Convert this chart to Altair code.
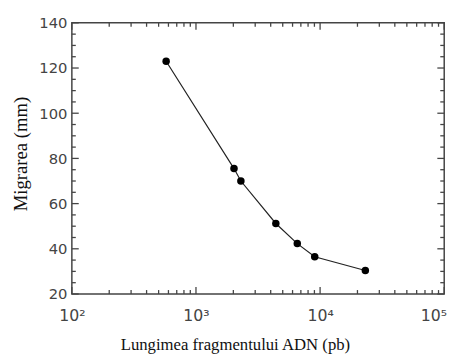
import altair as alt
import pandas as pd

# data
length_bp = [575, 2025, 2300, 4400, 6550, 9050, 23150]
migration_mm = [123, 75.5, 70, 51.2, 42.3, 36.5, 30.4]

x_major = [100, 1000, 10000, 100000]
x_minor = [m * 10 ** e for e in (2, 3, 4) for m in range(2, 10)]
y_major = [20, 40, 60, 80, 100, 120, 140]
y_minor = [v for v in range(25, 140, 5) if v % 20 != 0]

W, H = 379, 276
MAJ, MIN = 7, 4
TICK_COLOR = "#444"

df = pd.DataFrame({"x": length_bp, "y": migration_mm})

xscale = alt.Scale(type="log", domain=[100, 100000], nice=False)
yscale = alt.Scale(domain=[20, 140], nice=False, zero=False)

label_expr = ("datum.value == 100 ? '10\u00b2' : datum.value == 1000 ? '10\u00b3' : "
              "datum.value == 10000 ? '10\u2074' : '10\u2075'")

xaxis = alt.Axis(values=x_major, labelExpr=label_expr, tickSize=0, domain=False, grid=False,
                 labelFont="DejaVu Sans", labelFontSize=16, labelColor="#444",
                 labelPadding=14,
                 labelOffset={"condition": {"test": "datum.value == 100000", "value": -11},
                              "value": 0},
                 title="Lungimea fragmentului ADN (pb)",
                 titleFont="Liberation Serif", titleFontSize=17, titleFontWeight="normal",
                 titleColor="#111", titleX=166, titleY=56, titleBaseline="alphabetic",
                 titleAlign="center", labelFlush=False)
yaxis = alt.Axis(values=y_major, tickSize=0, domain=False, grid=False,
                 labelFont="DejaVu Sans", labelFontSize=15, labelColor="#444",
                 labelPadding=5, title="Migrarea (mm)",
                 titleFont="Liberation Serif", titleFontSize=19, titleFontWeight="normal",
                 titleColor="#111", titleX=-52, titleY=133, titleBaseline="middle",
                 titleAlign="center", titleAngle=-90, labelFlush=False)

line = alt.Chart(df).mark_line(color="#222", strokeWidth=1.2).encode(
    x=alt.X("x:Q", scale=xscale, axis=xaxis),
    y=alt.Y("y:Q", scale=yscale, axis=yaxis),
)
pts = alt.Chart(df).mark_circle(color="black", size=58, opacity=1).encode(
    x=alt.X("x:Q", scale=xscale),
    y=alt.Y("y:Q", scale=yscale),
)


def xticks(vals, ln):
    d = pd.DataFrame({"x": vals})
    bottom = alt.Chart(d).mark_rule(color=TICK_COLOR, strokeWidth=1.3).encode(
        x=alt.X("x:Q", scale=xscale), y=alt.value(H), y2=alt.value(H - ln))
    top = alt.Chart(d).mark_rule(color=TICK_COLOR, strokeWidth=1.3).encode(
        x=alt.X("x:Q", scale=xscale), y=alt.value(0), y2=alt.value(ln))
    return [bottom, top]


def yticks(vals, ln):
    d = pd.DataFrame({"y": vals})
    left = alt.Chart(d).mark_rule(color=TICK_COLOR, strokeWidth=1.3).encode(
        y=alt.Y("y:Q", scale=yscale), x=alt.value(0), x2=alt.value(ln))
    right = alt.Chart(d).mark_rule(color=TICK_COLOR, strokeWidth=1.3).encode(
        y=alt.Y("y:Q", scale=yscale), x=alt.value(W), x2=alt.value(W - ln))
    return [left, right]


layers = (xticks(x_major, MAJ) + xticks(x_minor, MIN) +
          yticks(y_major, MAJ) + yticks(y_minor, MIN) + [line, pts])

chart = alt.layer(*layers).properties(
    width=W, height=H,
    autosize=alt.AutoSizeParams(type="none"),
    padding={"left": 65, "top": 12, "right": 12, "bottom": 59},
    background="white",
).configure_view(stroke="#444", strokeWidth=1.5)

chart.save("out.html", embed_options={"renderer": "svg", "actions": False})
